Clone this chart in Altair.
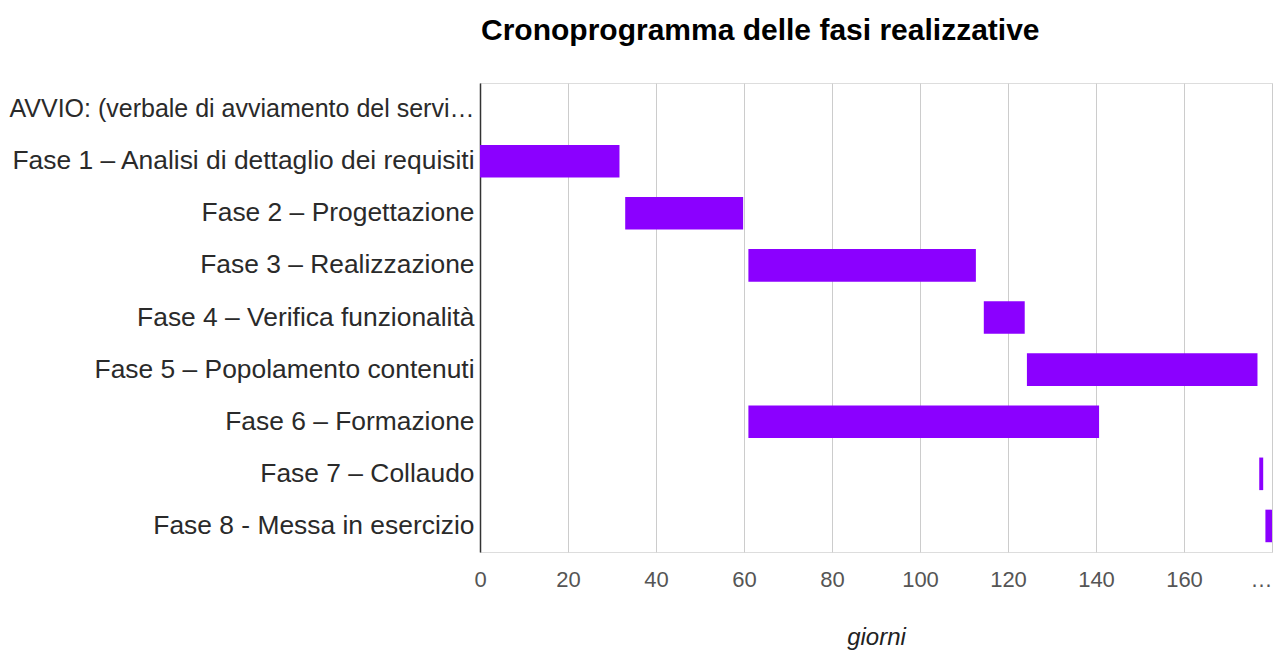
import altair as alt
import pandas as pd

phases = [
    "AVVIO: (verbale di avviamento del servi…",
    "Fase 1 – Analisi di dettaglio dei requisiti",
    "Fase 2 – Progettazione",
    "Fase 3 – Realizzazione",
    "Fase 4 – Verifica funzionalità",
    "Fase 5 – Popolamento contenuti",
    "Fase 6 – Formazione",
    "Fase 7 – Collaudo",
    "Fase 8 - Messa in esercizio",
]
start_days = [None, 0, 33, 61, 114.5, 124.3, 61, 177.1, 178.5]
end_days = [None, 31.7, 59.8, 112.7, 123.8, 176.7, 140.7, 178.0, 180.0]
x_ticks = [0, 20, 40, 60, 80, 100, 120, 140, 160, 180]

df = pd.DataFrame({"fase": phases, "inizio": start_days, "fine": end_days})

chart = (
    alt.Chart(df)
    .mark_bar(color="#8b00ff")
    .encode(
        x=alt.X(
            "inizio:Q",
            scale=alt.Scale(domain=[0, 180], nice=False, zero=False),
            axis=alt.Axis(
                values=x_ticks,
                labelExpr="datum.value == 180 ? '…' : datum.label",
                labelAlign=alt.ExprRef(expr="datum.value == 180 ? 'right' : 'center'"),
                grid=True,
                gridColor="#cccccc",
                gridWidth=1,
                domain=False,
                ticks=False,
                labelFont="Liberation Sans",
                labelFontSize=22,
                labelColor="#555555",
                labelPadding=17,
                labelFlush=False,
                title="giorni",
                titleFont="Liberation Sans",
                titleFontStyle="italic",
                titleFontWeight="normal",
                titleFontSize=24,
                titleColor="#222222",
                titleBaseline="alphabetic",
                titleY=92,
            ),
        ),
        x2="fine:Q",
        y=alt.Y(
            "fase:N",
            sort=phases,
            scale=alt.Scale(domain=phases, paddingInner=0.375, paddingOuter=0.1875),
            axis=alt.Axis(
                title=None,
                domain=True,
                domainColor="#333333",
                domainWidth=1.5,
                ticks=False,
                grid=False,
                labelFont="Liberation Sans",
                labelFontSize=alt.ExprRef(expr="indexof(datum.value, 'AVVIO') == 0 ? 25 : 26.4"),
                labelColor="#2a2a2a",
                labelPadding=6,
                labelLimit=0,
            ),
        ),
    )
    .properties(
        width=792,
        height=469,
        title=alt.TitleParams(
            "Cronoprogramma delle fasi realizzative",
            font="Liberation Sans",
            fontSize=30,
            fontWeight="bold",
            color="#000000",
            anchor="start",
            frame="group",
            baseline="alphabetic",
            offset=13,
            dx=1,
        ),
        autosize=alt.AutoSizeParams(type="none"),
        padding={"left": 472, "top": 75, "right": 4, "bottom": 98},
    )
    .configure_view(strokeWidth=0)
    .configure(background="#ffffff")
)

chart.save("out.html", embed_options={"renderer": "svg", "actions": False})
